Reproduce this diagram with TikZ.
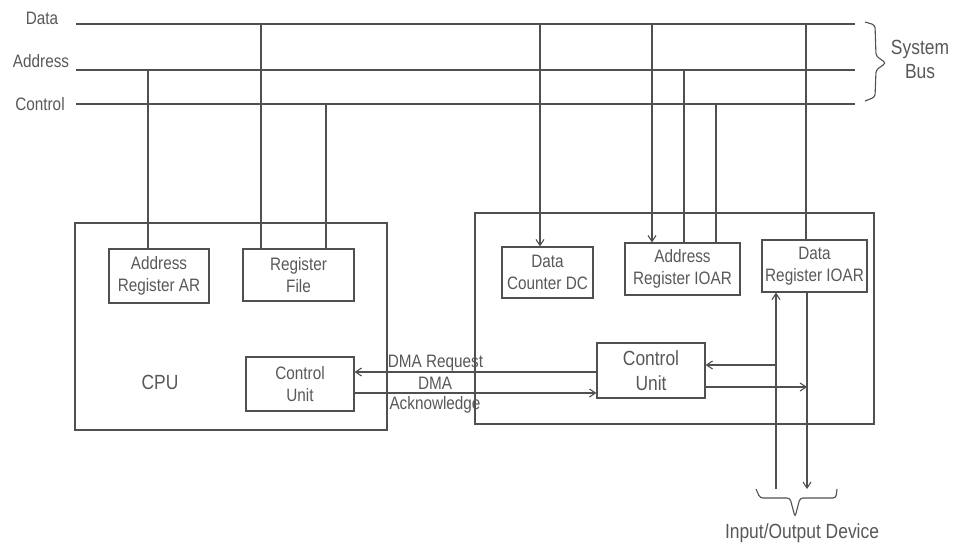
\documentclass[tikz,border=0pt]{standalone}
\usepackage{fontspec}
\setmainfont{Liberation Sans}
\newfontfamily\narrowsans[FakeStretch=0.85]{Liberation Sans}
\usetikzlibrary{arrows.meta}
\definecolor{ink}{HTML}{505050}
\definecolor{txt}{HTML}{585858}
\tikzset{
  wire/.style={draw=ink,line width=1.2pt},
  arr/.style={wire,-{Straight Barb[length=6pt,width=8pt,line width=1.1pt]}},
  blk/.style={draw=ink,line width=1.2pt,inner sep=0pt,text=txt,align=center,
              font=\narrowsans\fontsize{18}{22}\selectfont},
  lbl/.style={inner sep=0pt,text=txt,align=center,font=\narrowsans\fontsize{18}{21}\selectfont},
  biglbl/.style={lbl,font=\narrowsans\fontsize{20.5}{24}\selectfont},
  brc/.style={wire,line width=1.1pt,rounded corners=3pt},
}
\begin{document}
\begin{tikzpicture}[x=1pt,y=-1pt]
\useasboundingbox (0,0) rectangle (955,544);

% system bus lines
\coordinate (d0) at (76,24);  \coordinate (d1) at (855,24);
\coordinate (a0) at (76,70);  \coordinate (a1) at (855,70);
\coordinate (c0) at (76,104); \coordinate (c1) at (855,104);
\draw[wire] (d0) -- (d1);
\draw[wire] (a0) -- (a1);
\draw[wire] (c0) -- (c1);
\node[lbl] (ldata) at (42,18) {Data};
\node[lbl] (laddr) at (41,61) {Address};
\node[lbl] (lctrl) at (40,104) {Control};
\draw[brc] (865,22) -- (875,25) -- (876,56) -- (886,63) -- (876,70) -- (875,97) -- (865,101);
\node[biglbl] (sysbus) at (920,59) {System\\Bus};

% CPU
\node[draw=ink,line width=1.2pt,minimum width=312pt,minimum height=207pt,inner sep=0pt] (cpu) at (231,326.5) {};
\node[blk,minimum width=100pt,minimum height=54pt] (ar) at (159,276) {Address\\Register AR};
\node[blk,minimum width=111pt,minimum height=52pt] (rf) at (298.5,275) {Register\\File};
\node[blk,minimum width=108pt,minimum height=54pt] (cu) at (300,384) {Control\\Unit};
\node[biglbl] (cpulbl) at (160,382) {CPU};

% DMA controller
\node[draw=ink,line width=1.2pt,minimum width=399pt,minimum height=211pt,inner sep=0pt] (dma) at (674.5,318.5) {};
\node[blk,minimum width=91pt,minimum height=51pt] (dc) at (547.5,272.5) {Data\\Counter DC};
\node[blk,minimum width=115pt,minimum height=52pt] (ioar) at (682.5,269) {Address\\Register IOAR};
\node[blk,minimum width=105pt,minimum height=52pt] (dr) at (814.5,266) {Data\\Register IOAR};
\node[blk,minimum width=108pt,minimum height=55pt,font=\narrowsans\fontsize{20.5}{25}\selectfont] (cu2) at (651,370.5) {Control\\Unit};

% bus taps into the CPU
\draw[wire] ([xshift=-11pt]ar.north) -- ([xshift=-11pt]ar.north |- a0);
\draw[wire] ([xshift=-37.5pt]rf.north) -- ([xshift=-37.5pt]rf.north |- d0);
\draw[wire] ([xshift=27.5pt]rf.north) -- ([xshift=27.5pt]rf.north |- c0);

% bus taps into the DMA controller
\draw[arr] ([xshift=-7.5pt]dc.north |- d0) -- ([xshift=-7.5pt]dc.north);
\draw[arr] ([xshift=-30.5pt]ioar.north |- d0) -- ([xshift=-30.5pt]ioar.north);
\draw[wire] ([xshift=1.5pt]ioar.north) -- ([xshift=1.5pt]ioar.north |- a0);
\draw[wire] ([xshift=33.5pt]ioar.north) -- ([xshift=33.5pt]ioar.north |- c0);
\draw[wire] ([xshift=-8.5pt]dr.north) -- ([xshift=-8.5pt]dr.north |- d0);

% handshake between the controllers
\draw[arr] ([yshift=-1.5pt]cu2.west) -- ([yshift=-1.5pt]cu2.west -| cu.east);
\draw[arr] ([yshift=-9pt]cu.east) -- ([yshift=-9pt]cu.east -| cu2.west);
\node[lbl] (req) at (435.5,363) {DMA Request};
\node[lbl] (dmal) at (435,383) {DMA};
\node[lbl] (ack) at (435,405) {Acknowledge};

% input/output device
\coordinate (ioup) at (776,489);
\coordinate (iodn) at (807,489);
\coordinate (t1) at (776,365);
\coordinate (t2) at (807,387);
\draw[arr] (ioup) -- (ioup |- dr.south);
\draw[arr] (dr.south -| iodn) -- (iodn);
\draw[arr] (t1) -- (t1 -| cu2.east);
\draw[arr] (t2 -| cu2.east) -- (t2);
\draw[brc] (756,489) -- (760,498) -- (790,498) -- (795,517) -- (800,498) -- (836,498) -- (837,489);
\node[biglbl] (iodev) at (802,533) {Input/Output Device};
\end{tikzpicture}
\end{document}
